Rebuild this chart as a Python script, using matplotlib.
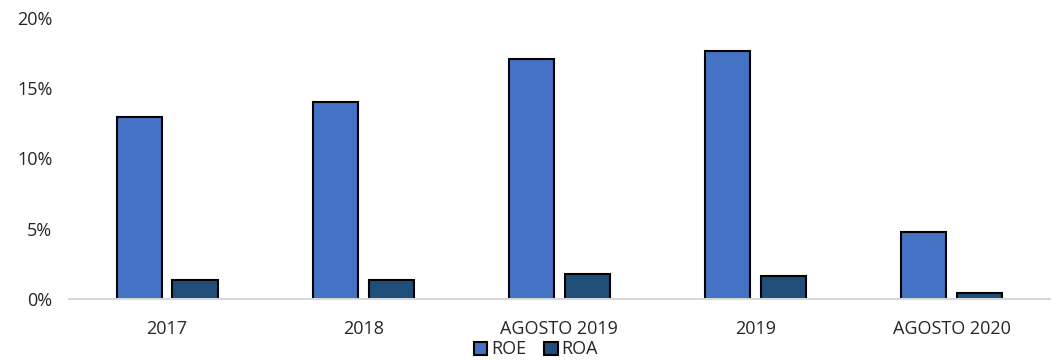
import matplotlib.pyplot as plt
import numpy as np
from matplotlib.ticker import FuncFormatter

categories = ['2017', '2018', 'AGOSTO 2019', '2019', 'AGOSTO 2020']
roe = [12.95, 14.0, 17.1, 17.65, 4.75]
roa = [1.35, 1.35, 1.75, 1.6, 0.45]

plt.rcParams['font.family'] = ['Open Sans', 'DejaVu Sans']

fig = plt.figure(figsize=(10.54, 3.61), dpi=100)
ax = fig.add_axes([0.0655, 0.172, 0.9305, 0.778])

x = np.arange(len(categories))
width = 0.23
ax.bar(x - 0.142, roe, width, color='#4472C4', edgecolor='black', linewidth=1.5, label='ROE', zorder=2)
ax.bar(x + 0.142, roa, width, color='#1F4E79', edgecolor='black', linewidth=1.5, label='ROA', zorder=2)

ax.set_xlim(-0.5, len(categories) - 0.5)
ax.set_ylim(0, 20)
ax.set_yticks([0, 5, 10, 15, 20])
ax.yaxis.set_major_formatter(FuncFormatter(lambda v, _: f'{v:.0f}%'))
ax.set_xticks(x)
ax.set_xticklabels(categories)

for side in ['top', 'right', 'left']:
    ax.spines[side].set_visible(False)
ax.spines['bottom'].set_color('#D9D9D9')
ax.spines['bottom'].set_linewidth(1.5)
ax.tick_params(axis='both', length=0, labelsize=13, colors='#262626')
ax.tick_params(axis='x', pad=15)
ax.tick_params(axis='y', pad=12)

ax.legend(loc='center', bbox_to_anchor=(0.476, -0.18), ncol=2, frameon=False,
          fontsize=13, handlelength=0.75, handleheight=0.75, handletextpad=0.2,
          columnspacing=1.0, labelcolor='#262626', borderpad=0.1)

fig.savefig('out.png', dpi=100)
